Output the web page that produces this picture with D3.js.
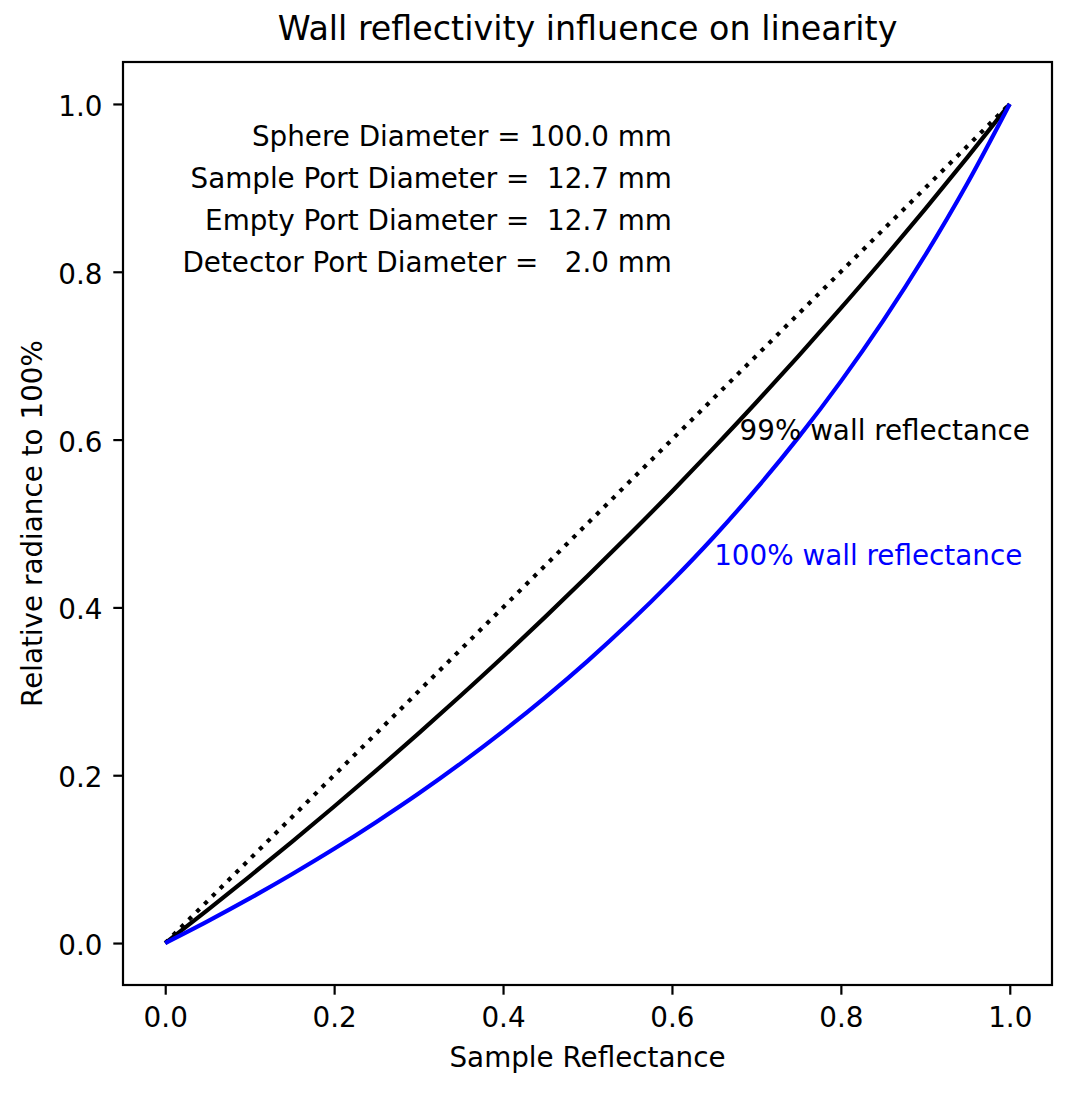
<!DOCTYPE html>
<html>
<head>
<meta charset="utf-8">
<script src="https://cdn.jsdelivr.net/npm/d3@7"></script>
<style>
  html, body { margin: 0; padding: 0; background: #fff; }
  svg { display: block; font-family: "DejaVu Sans", sans-serif; }
</style>
</head>
<body>
<svg id="chart" width="1072" height="1093"></svg>
<script>
// ---- data ----
const reflectance = [0, 0.05, 0.1, 0.15, 0.2, 0.25, 0.3, 0.35, 0.4, 0.45, 0.5,
                     0.55, 0.6, 0.65, 0.7, 0.75, 0.8, 0.85, 0.9, 0.95, 1.0];
const wall99 = [0, 0.0393, 0.0795, 0.1206, 0.1627, 0.2057, 0.2498, 0.2950, 0.3412, 0.3887, 0.4373,
                0.4871, 0.5382, 0.5907, 0.6445, 0.6998, 0.7566, 0.8149, 0.8749, 0.9366, 1.0];
const wall100 = [0, 0.0259, 0.0532, 0.0820, 0.1123, 0.1444, 0.1782, 0.2142, 0.2523, 0.2928, 0.3360,
                 0.3822, 0.4316, 0.4845, 0.5415, 0.6029, 0.6694, 0.7415, 0.8200, 0.9058, 1.0];
const identityX = [0, 1];
const identityY = [0, 1];
const xTicks = [0, 0.2, 0.4, 0.6, 0.8, 1.0];
const yTicks = [0, 0.2, 0.4, 0.6, 0.8, 1.0];
const infoLines = ["Sphere Diameter = 100.0 mm", "Sample Port Diameter =  12.7 mm",
                   "Empty Port Diameter =  12.7 mm", "Detector Port Diameter =   2.0 mm"];
const infoY = [0.95, 0.90, 0.85, 0.80];
const infoX = 0.6;
const curveLabels = ["99% wall reflectance", "100% wall reflectance"];
const curveLabelX = [0.68, 0.65];
const curveLabelY = [0.60, 0.45];
const titleText = "Wall reflectivity influence on linearity";
const xLabelText = "Sample Reflectance";
const yLabelText = "Relative radiance to 100%";

// ---- layout ----
const L = 123, R = 1052, T = 62, B = 985;
const svg = d3.select("#chart");
const x = d3.scaleLinear().domain([-0.05, 1.05]).range([L, R]);
const y = d3.scaleLinear().domain([-0.05, 1.05]).range([B, T]);
const fs = 27.8;
const lw = 4.17;

// lines
const line = d3.line().x(d => x(d[0])).y(d => y(d[1])).curve(d3.curveMonotoneX);

svg.append("path")
  .datum(identityX.map((v, i) => [v, identityY[i]]))
  .attr("d", d3.line().x(d => x(d[0])).y(d => y(d[1])))
  .attr("fill", "none").attr("stroke", "#000").attr("stroke-width", lw)
  .attr("stroke-dasharray", "4.17,6.88");

svg.append("path")
  .datum(reflectance.map((v, i) => [v, wall99[i]]))
  .attr("d", line)
  .attr("fill", "none").attr("stroke", "#000").attr("stroke-width", lw);

svg.append("path")
  .datum(reflectance.map((v, i) => [v, wall100[i]]))
  .attr("d", line)
  .attr("fill", "none").attr("stroke", "#0000ff").attr("stroke-width", lw);

// axes
const xAxis = svg.append("g").attr("transform", `translate(0,${B})`)
  .call(d3.axisBottom(x).tickValues(xTicks).tickFormat(d3.format(".1f")).tickSize(9.7).tickSizeOuter(0));
xAxis.select(".domain").remove();
xAxis.selectAll("line").attr("stroke", "#000").attr("stroke-width", 2.2);
xAxis.selectAll("text").attr("y", 42).attr("dy", null)
  .attr("font-size", fs).attr("font-family", "DejaVu Sans").attr("fill", "#000");

const yAxis = svg.append("g").attr("transform", `translate(${L},0)`)
  .call(d3.axisLeft(y).tickValues(yTicks).tickFormat(d3.format(".1f")).tickSize(9.7).tickSizeOuter(0));
yAxis.select(".domain").remove();
yAxis.selectAll("line").attr("stroke", "#000").attr("stroke-width", 2.2);
yAxis.selectAll("text").attr("x", -20.5).attr("dy", 11.5)
  .attr("font-size", fs).attr("font-family", "DejaVu Sans").attr("fill", "#000");

// frame
svg.append("rect").attr("x", L).attr("y", T).attr("width", R - L).attr("height", B - T)
  .attr("fill", "none").attr("stroke", "#000").attr("stroke-width", 2.2);

// info text
svg.selectAll("text.info").data(infoLines).enter().append("text")
  .attr("class", "info")
  .attr("x", x(infoX)).attr("y", (d, i) => y(infoY[i]))
  .attr("text-anchor", "end").attr("font-size", fs).attr("fill", "#000")
  .style("white-space", "pre").attr("xml:space", "preserve")
  .text(d => d);

// curve labels
const labelColors = ["#000", "#0000ff"];
svg.selectAll("text.clabel").data(curveLabels).enter().append("text")
  .attr("class", "clabel")
  .attr("x", (d, i) => x(curveLabelX[i])).attr("y", (d, i) => y(curveLabelY[i]))
  .attr("font-size", fs).attr("fill", (d, i) => labelColors[i])
  .text(d => d);

// title & labels
svg.append("text").attr("x", (L + R) / 2).attr("y", 40).attr("text-anchor", "middle")
  .attr("font-size", 33.3).attr("fill", "#000").text(titleText);
svg.append("text").attr("x", (L + R) / 2).attr("y", 1067).attr("text-anchor", "middle")
  .attr("font-size", fs).attr("fill", "#000").text(xLabelText);
svg.append("text").attr("transform", `translate(42,${(T + B) / 2}) rotate(-90)`)
  .attr("text-anchor", "middle").attr("font-size", fs).attr("fill", "#000").text(yLabelText);
</script>
</body>
</html>
